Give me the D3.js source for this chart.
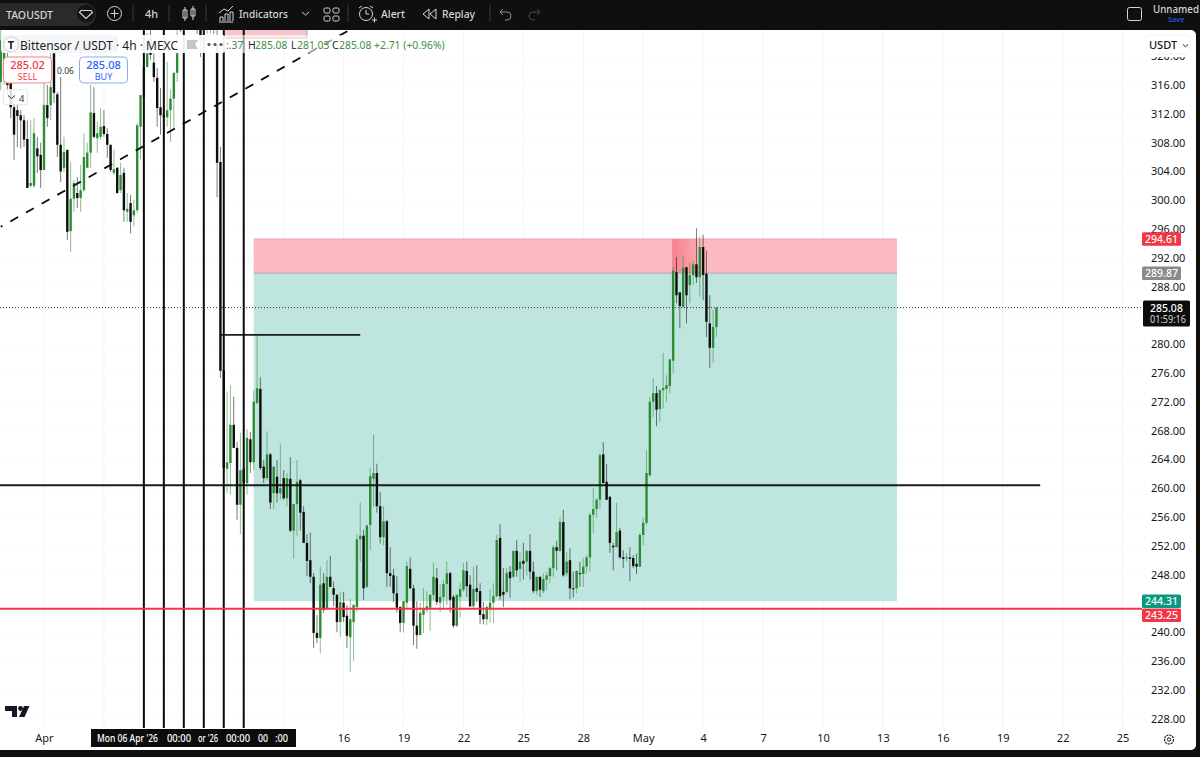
<!DOCTYPE html>
<html>
<head>
<meta charset="utf-8">
<title>TAOUSDT</title>
<script src="https://cdnjs.cloudflare.com/ajax/libs/d3/7.8.5/d3.min.js"></script>
<style>
  html, body { margin: 0; padding: 0; background: #0f0f0f; overflow: hidden; }
  svg { display: block; font-family: "Noto Sans", sans-serif; }
</style>
</head>
<body>
<script>
// 4h candles, first one is 30 Mar 2026 (index 13 = 1 Apr 00:00)
var opens = [316.4,317.4,319.5,317.4,312.9,312.5,311.8,311.1,308.5,302,302,307.2,306.3,304.2,313.2,313.2,320.4,314.7,307.7,304.5,
  307,295.7,300.2,301,300.3,301.4,304.5,306.6,312.1,308.6,308.8,310.3,309.2,307.7,303.8,304.5,301.4,303.8,298.4,299.6,
  297.9,298.6,310.2,314.3,318.5,322.5,319.1,317,312.9,311.8,311.5,312.5,314.1,317.7,326.4,324.3,327.1,325.3,326.4,325.7,
  324.3,323.6,325.7,327.1,327.8,321.6,305.3,276.4,262.7,263.5,268.8,265.6,257.7,262.7,260.7,266.8,263.6,271.8,273.8,263,
  261.4,264.7,259.3,261.6,259.3,261.4,258.6,261.3,254.1,257.8,261.1,256.7,252.4,250,247.7,239.9,239.2,246.8,243.2,247.7,
  246.1,245.2,241.4,244.1,242.3,239.3,241.4,243.5,252.9,253.4,246.3,254.9,261.3,262.1,257.5,253.2,255.4,248.2,247.9,245.4,
  243.5,241.3,244.1,248.8,246.1,240.9,239.6,242.4,243.1,243.4,245.2,247.5,244.1,244.9,246.7,248.2,244.9,240.9,244.9,245.9,
  248.5,246.6,243.6,246.1,245.7,242.5,241.8,243.2,244.1,245,253.1,245.6,245.6,248.4,247.7,251.3,248.8,249.9,249.8,251.3,
  248.4,245.7,247.7,245.7,247.3,247.8,248.9,251.8,251.3,255.3,248.2,250,246.1,246.1,248.2,248.1,249.1,250.4,256.3,257.1,
  258.4,264.7,260.9,258.8,252,251.8,254.1,250.4,250.3,250.4,250.3,249.5,249.1,253.5,255.2,261.8,272,273.2,271,273.6,
  273.8,274.2,277.7,290,287.2,285.2,290.7,288.2,289.6,291.1,289.3,293.5,289.8,282.9,279.5,282.37];
var highs = [323.6,322.2,321.6,319.5,314.6,313.2,312.5,311.8,311.1,311.1,311.4,308.8,308,316.3,316,320.4,320.4,315,317.1,308.8,
  307,305.3,302.8,303.2,304.9,309.3,308,316,315.7,310.9,312.8,312.5,310,307.7,307,304.6,305.2,304.5,301,300.7,
  300,310.7,314.6,323.6,323.2,323.6,320.4,318.4,315.6,313.9,319.2,315.4,317.7,323.6,327.1,327.8,327.8,327.8,327.5,327.1,
  326.4,327.1,327.8,328.5,328.5,323.6,307.4,276.4,273.4,274.3,272.7,266.4,267.7,266.7,268.2,267.8,273.6,281.3,275.4,263.9,
  267.9,264.9,263,263.9,266.1,262.5,262.1,264.3,257.8,263.9,261.3,257.5,253.6,253.8,248.2,242.4,249.1,248.2,250,250.6,
  247,245.3,245.6,245.6,243.8,244.6,243.8,253.6,258,254.2,255,262.8,267.4,263.4,259.5,257.5,255.6,251.8,248.8,247.8,
  243.6,244.3,249.8,250.4,246.6,244.3,244.1,246.1,245.7,245.3,249.6,248.9,246.6,247.3,249.8,248.4,245.2,245.2,246.8,249.6,
  249.8,247.9,249.1,249.3,246.8,244.2,243.8,245.9,246.8,253.5,255,248.9,248.9,249.2,251.3,252.8,251.1,252.4,251.4,253.6,
  249.8,247.7,247.7,248.2,248.4,249.1,252.1,252.7,256,257,251.1,251.7,248.4,248.6,249.8,250.3,250.7,256.6,260,258.6,
  264.9,266.4,263.4,258.9,252.4,258,254.5,251.4,251,251.8,250.7,250.9,253.8,255.9,265.3,272.7,275.3,274.2,273.8,278.8,
  275.7,277.9,290.7,292.1,287.2,292.3,290.7,291.3,291.6,296.1,295,295.2,293,286.8,284.8,285.08];
var lows = [315.3,316,314.6,311.4,305.6,307.4,307.2,307.4,301.7,301.8,301.7,303.8,301.7,304.2,310.2,311.1,313.5,306,302.5,303.9,
  294.5,292.8,298.4,298.9,298.4,301.1,304.5,304.5,308.6,306.6,308.4,308.8,305.9,303.9,303.5,300.9,301,297,297,295.4,
  296.3,298.2,305.7,314.3,318.5,319.5,316.4,310.2,309.1,309.1,310.2,308.1,310,316.4,323.4,323.6,324.3,323.9,324.2,323.1,
  319.9,322,323.1,323.2,323.1,300.4,275.3,262.1,259.3,259.1,265.6,255.6,253.6,260.2,259.1,262.1,262.5,271.8,262.5,260.7,
  261.1,257.1,257.1,258,258.4,258.4,257.5,253.9,250.2,253.4,254.1,252.4,247.8,246.8,237.8,238.5,237.1,242.7,243.2,246.3,
  243.6,240,239.3,241.4,237.8,234.5,236,242.8,249.8,244.5,246.1,251.4,257.4,256.6,252.3,252.1,246.3,246.3,244.2,242.7,
  240,240,243.4,246,238.2,237.7,239.6,239.9,242.7,240.2,244.5,243.8,242.8,243.4,243.8,242.7,240.6,240.7,242,245.6,
  244.9,243.5,243.4,244.2,241.1,241.1,241,241.3,241.3,244.9,244.5,243.5,245.4,244.8,247.5,247.7,247,247.3,247.9,247.3,
  245.4,245.2,244.9,245.4,245.9,246.8,247.7,248.6,251.1,247.7,247.7,244.6,244.8,245.4,246.3,246.3,248.2,248.4,253.8,255.9,
  257.1,260.7,258.4,251,248.6,251.8,250.2,248.9,249.8,247.1,248.9,248.1,249.1,252.1,254.9,261.6,269.9,268.6,269.2,271.1,
  272,273.2,276,285.7,282.2,285,282.9,285.7,288.2,288.5,286.6,286.1,281,276.7,277.4,281.03];
var closes = [322.2,320.9,316,312.9,309.1,311.7,311.1,308.4,301.7,302.4,309.3,306.1,304.2,313.2,311.4,315.7,314.9,307.7,304,306.7,
  295.6,300.2,302.4,300.3,301.4,306,306.6,312.2,308.8,309.3,310.2,309.2,307.7,304.2,304.3,301,303.5,298.6,298.8,297,
  298.6,310.4,314.6,318.5,320.4,320.2,317.1,312.8,311.8,311.5,312.5,314.1,317.7,320.4,324.3,326.7,325,327.1,325,323.9,
  322.2,325.7,327.1,327.8,325.7,305.2,276.3,262.8,263.6,268.8,265.6,257.7,262.5,260.7,267,263.6,272,273.9,262.8,261.4,
  264.7,258,263,259.3,260,258.6,261.4,254.1,257.8,260.9,256.6,252.4,249.9,247.7,239.9,239.2,246.6,243.1,247.7,246.3,
  245.2,241.4,244.2,242.1,239.5,241.8,243.8,252.9,253.4,246.1,254.8,261.7,262.1,257.5,253.2,255.4,248.2,247.8,245.4,243.4,
  241.3,244.3,249.2,246.1,240.9,239.6,242.7,243.2,243.6,245.2,247.7,244.2,244.9,246.7,248.2,244.5,240.9,245.2,246,248.6,
  246.4,243.6,246,245.6,242.4,241.8,243.5,244.1,245,252.8,245,245.2,248.2,247.5,251.3,248.6,249.8,249.5,251.3,248.4,
  245.7,247.7,245.9,247.4,247.9,248.9,251.8,251.3,255.3,247.9,249.8,246.1,246,248.5,248.1,249.1,250.4,256.3,257.1,258.4,
  264.6,260.7,258.4,252.4,251.8,253.9,250.4,250.2,250.4,250.2,249.2,249.1,253.5,255.2,262.1,272,273.2,270.9,273.6,273.9,
  274.3,277.9,290.2,286.8,285.3,290.6,286.8,289.6,291.1,289.3,293.5,289.6,283.1,279.5,282.4,285.08];

var priceTicks = [228,232,236,240,244,248,252,256,260,264,268,272,276,280,284,288,292,296,300,304,308,312,316,320];
var hiddenPriceTicks = [244, 284];  // covered by the price tags
var timeTickDays = [[3,1],[3,4],[3,7],[3,10],[3,13],[3,16],[3,19],[3,22],[3,25],[3,28],[4,1],[4,4],[4,7],[4,10],[4,13],[4,16],[4,19],[4,22],[4,25]];
// 4, 7, 10, 13 Apr sit under the crosshair date label
var timeTickLabels = ["Apr","","","","","16","19","22","25","28","May","4","7","10","13","16","19","22","25"];

// drawings on the chart
var verticalCandles = [43,49,55,61,67,73];
var trendCandles = [0,105];
var trendPrices = [296.3,323.7];
var levelPrice = 260.4;
var levelEnd = new Date(Date.UTC(2026,4,20,21));
var redLevel = 243.25;
var lastPrice = 285.08;
var shortLinePrice = 281.3;
var shortLineCandles = [66,108];
var stopTop = 294.61, entry = 289.87, target = 244.31;
var zoneStartCandle = 76;
var zoneEnd = new Date(Date.UTC(2026,4,13,17));
var overlapCandle = 202, overlapEndCandle = 209;
var upperZonePrices = [322.5,330];
var upperZoneCandles = [67,92];

var width = 1200, height = 757;
var chartRight = 1142, chartTop = 30, chartBottom = 728;

var candleTime = function(i){ return new Date(Date.UTC(2026,3,1) + (i-13)*4*3600*1000); };
var x = d3.scaleUtc().domain([new Date(Date.UTC(2026,3,1)), new Date(Date.UTC(2026,4,1))]).range([44,643.2]);
var y = d3.scaleLinear().domain([228,316]).range([718.6,85]);
var xi = function(i){ return x(candleTime(i)); };

var svg = d3.select("body").append("svg").attr("width",width).attr("height",height);
svg.append("rect").attr("width",width).attr("height",height).attr("fill","#0f0f0f");
svg.append("rect").attr("x",-6).attr("y",30).attr("width",1202).attr("height",720).attr("rx",5).attr("fill","#fff");

svg.append("clipPath").attr("id","pane").append("rect")
  .attr("x",0).attr("y",chartTop).attr("width",chartRight).attr("height",chartBottom-chartTop);
var defs = svg.append("defs");
var grad = defs.append("linearGradient").attr("id","overlap");
grad.append("stop").attr("offset","0").attr("stop-color","#f6808c").attr("stop-opacity",0.95);
grad.append("stop").attr("offset","1").attr("stop-color","#f6808c").attr("stop-opacity",0.35);

var pane = svg.append("g").attr("clip-path","url(#pane)");

// grid
var tickDates = timeTickDays.map(function(d){ return new Date(Date.UTC(2026,d[0],d[1])); });
pane.selectAll(".vgrid").data(tickDates).enter().append("line")
  .attr("x1",x).attr("x2",x).attr("y1",chartTop).attr("y2",chartBottom)
  .attr("stroke","#f2f3f5").attr("stroke-width",1);
pane.selectAll(".hgrid").data(priceTicks).enter().append("line")
  .attr("x1",0).attr("x2",chartRight).attr("y1",y).attr("y2",y)
  .attr("stroke","#fafafb").attr("stroke-width",1);

// position zones
var zoneX = xi(zoneStartCandle);
pane.append("rect").attr("x",zoneX).attr("width",x(zoneEnd)-zoneX)
  .attr("y",y(stopTop)).attr("height",y(entry)-y(stopTop)).attr("fill","#fbb9c0");
pane.append("rect").attr("x",zoneX).attr("width",x(zoneEnd)-zoneX)
  .attr("y",y(entry)).attr("height",y(target)-y(entry)).attr("fill","#bfe5df");
pane.append("line").attr("x1",zoneX).attr("x2",x(zoneEnd)).attr("y1",y(stopTop)).attr("y2",y(stopTop))
  .attr("stroke","#f5a3ac").attr("stroke-width",1);
pane.append("line").attr("x1",zoneX).attr("x2",x(zoneEnd)).attr("y1",y(entry)).attr("y2",y(entry))
  .attr("stroke","#b9a3a8").attr("stroke-width",1);
pane.append("rect").attr("x",xi(overlapCandle)-1).attr("width",xi(overlapEndCandle)-xi(overlapCandle)+1)
  .attr("y",y(stopTop)).attr("height",y(entry)-y(stopTop)).attr("fill","url(#overlap)");
pane.append("rect").attr("x",xi(upperZoneCandles[0])).attr("width",xi(upperZoneCandles[1])-xi(upperZoneCandles[0]))
  .attr("y",y(upperZonePrices[1])).attr("height",y(upperZonePrices[0])-y(upperZonePrices[1]))
  .attr("fill","#f7c6cb").attr("stroke","#9fa3a8");

// candles
var idx = d3.range(opens.length);
var upColor = "#2e8b35", downColor = "#0c0c0c";
var isUp = function(i){ return closes[i] >= opens[i]; };
pane.selectAll(".wick").data(idx).enter().append("line")
  .attr("x1",xi).attr("x2",xi)
  .attr("y1",function(i){ return y(highs[i]); })
  .attr("y2",function(i){ return y(lows[i]); })
  .attr("stroke",function(i){ return isUp(i) ? upColor : downColor; })
  .attr("stroke-opacity",0.55).attr("stroke-width",1);
pane.selectAll(".body").data(idx).enter().append("rect")
  .attr("x",function(i){ return xi(i)-1.2; })
  .attr("width",2.4)
  .attr("y",function(i){ return y(Math.max(opens[i],closes[i])); })
  .attr("height",function(i){ return Math.max(1,Math.abs(y(opens[i])-y(closes[i]))); })
  .attr("fill",function(i){ return isUp(i) ? upColor : downColor; });

// drawings
pane.selectAll(".vline").data(verticalCandles).enter().append("line")
  .attr("x1",xi).attr("x2",xi).attr("y1",chartTop).attr("y2",chartBottom)
  .attr("stroke","#0a0a0a").attr("stroke-width",2);
pane.append("line").attr("x1",xi(trendCandles[0])).attr("x2",xi(trendCandles[1]))
  .attr("y1",y(trendPrices[0])).attr("y2",y(trendPrices[1]))
  .attr("stroke","#0a0a0a").attr("stroke-width",1.8).attr("stroke-dasharray","9 9").attr("stroke-dashoffset",7);
pane.append("line").attr("x1",0).attr("x2",x(levelEnd)).attr("y1",y(levelPrice)).attr("y2",y(levelPrice))
  .attr("stroke","#0a0a0a").attr("stroke-opacity",0.92).attr("stroke-width",2);
pane.append("line").attr("x1",xi(shortLineCandles[0])).attr("x2",xi(shortLineCandles[1]))
  .attr("y1",y(shortLinePrice)).attr("y2",y(shortLinePrice))
  .attr("stroke","#0a0a0a").attr("stroke-opacity",0.92).attr("stroke-width",1.8);
pane.append("line").attr("x1",0).attr("x2",chartRight).attr("y1",y(redLevel)).attr("y2",y(redLevel))
  .attr("stroke","#f23645").attr("stroke-width",2);
pane.append("line").attr("x1",0).attr("x2",chartRight).attr("y1",y(lastPrice)).attr("y2",y(lastPrice))
  .attr("stroke","#333").attr("stroke-width",1).attr("stroke-dasharray","1 2");

// price axis
var yAxis = d3.axisRight(y).tickValues(priceTicks.filter(function(t){ return hiddenPriceTicks.indexOf(t) < 0; }))
  .tickFormat(d3.format(".2f")).tickSize(0).tickPadding(0);
var yg = svg.append("g").attr("transform","translate(1151,0)").call(yAxis);
yg.select(".domain").remove();
yg.selectAll("text").attr("font-size",11).attr("fill","#131722").attr("font-family","Noto Sans");

// time axis
var xAxis = d3.axisBottom(x).tickValues(tickDates)
  .tickFormat(function(d,i){ return timeTickLabels[i]; }).tickSize(0).tickPadding(0);
var xg = svg.append("g").attr("transform","translate(0,734)").call(xAxis);
xg.select(".domain").remove();
xg.selectAll("text").attr("font-size",11).attr("fill","#131722").attr("font-family","Noto Sans").attr("dy","0.7em");

// crosshair date label
svg.append("rect").attr("x",91).attr("y",729).attr("width",205).attr("height",18).attr("fill","#0c0c0c");
svg.selectAll(".cross").data([["Mon 06 Apr '26",97,61],["00:00",167,24],["or '26",198,20],["00:00",226,24],["00",258,10],[":00",275,13]]).enter().append("text")
  .attr("x",function(d){ return d[1]; }).attr("y",742).text(function(d){ return d[0]; })
  .attr("textLength",function(d){ return d[2]; }).attr("lengthAdjust","spacingAndGlyphs")
  .attr("font-size",10.5).attr("font-weight",500).attr("fill","#fff");

// price tags, the two lowest ones are pushed apart like on the chart
function tag(price,txt,fill,color,shift){
  var yy = y(price)+shift;
  svg.append("rect").attr("x",1142).attr("y",yy-6.7).attr("width",39).attr("height",13.5).attr("rx",1.5).attr("fill",fill);
  svg.append("text").attr("x",1161.5).attr("y",yy+4).attr("text-anchor","middle")
    .attr("font-size",10.5).attr("font-weight",500).attr("fill",color).text(txt);
}
tag(stopTop,"294.61","#f23645","#fff",0);
tag(entry,"289.87","#888a8e","#fff",0);
tag(target,"244.31","#089981","#fff",0);
tag(redLevel,"243.25","#f23645","#fff",6.5);
svg.append("rect").attr("x",1143).attr("y",y(lastPrice)-7).attr("width",47).attr("height",26).attr("rx",1.5).attr("fill","#0c0c0c");
svg.append("text").attr("x",1150).attr("y",y(lastPrice)+4).attr("font-size",10.5).attr("font-weight",500).attr("fill","#fff").text("285.08");
svg.append("text").attr("x",1150).attr("y",y(lastPrice)+15).attr("font-size",10.5).attr("textLength",36).attr("lengthAdjust","spacingAndGlyphs").attr("fill","#d6d6d6").text("01:59:16");

// USDT button, sits over the top of the 320 tick
svg.append("rect").attr("x",1146).attr("y",35).attr("width",44).attr("height",22).attr("fill","#fff");
svg.append("rect").attr("x",1146).attr("y",35).attr("width",44).attr("height",19).attr("rx",3).attr("fill","#fff").attr("stroke","#f0f3fa");
svg.append("text").attr("x",1149).attr("y",49).attr("font-size",11).attr("font-weight",500).attr("fill","#131722").text("USDT");
svg.append("path").attr("d","M1183 44.5l2.5 2.2 2.5-2.2").attr("fill","none").attr("stroke","#222").attr("stroke-width",1);

// settings gear
svg.append("circle").attr("cx",1169).attr("cy",739.5).attr("r",4.5).attr("fill","none").attr("stroke","#131722").attr("stroke-width",1.2).attr("stroke-dasharray","2.2 0.8");
svg.append("circle").attr("cx",1169).attr("cy",739.5).attr("r",1.7).attr("fill","none").attr("stroke","#131722");

// tradingview logo
svg.append("path").attr("d","M5 706h12v11h-5v-6h-7z").attr("fill","#131722");
svg.append("circle").attr("cx",20.5).attr("cy",708.5).attr("r",2.4).attr("fill","#131722");
svg.append("path").attr("d","M24 706h5.5l-5 11h-5.5z").attr("fill","#131722");

// legend
svg.append("rect").attr("x",225).attr("y",35).attr("width",220).attr("height",18).attr("fill","#fff").attr("fill-opacity",0.6);
svg.append("rect").attr("x",1).attr("y",35).attr("width",225).attr("height",18).attr("rx",4).attr("fill","#fff").attr("fill-opacity",0.93);
svg.append("rect").attr("x",1).attr("y",35).attr("width",117).attr("height",18).attr("rx",3).attr("fill","#f0f1f3").attr("fill-opacity",0.7);
svg.append("circle").attr("cx",11).attr("cy",44.5).attr("r",7.5).attr("fill","#fff").attr("stroke","#c9ccd3");
svg.append("text").attr("x",11).attr("y",48.5).attr("text-anchor","middle").attr("font-size",11).attr("font-weight",700).attr("fill","#222").text("T");
svg.append("text").attr("x",20).attr("y",50).attr("font-size",13).attr("fill","#1a1d26").attr("font-family","Noto Sans")
  .attr("textLength",158).attr("lengthAdjust","spacingAndGlyphs").text("Bittensor / USDT · 4h · MEXC");
svg.append("path").attr("d","M187 40h11l-3 4.5 3 4.5h-11z").attr("fill","#c4c6cb");
svg.selectAll(".dot").data([209,215,221]).enter().append("circle")
  .attr("cx",function(d){ return d; }).attr("cy",44.5).attr("r",1.6).attr("fill","#555");
var green = "#3d8f43";
var legendParts = [[226,":.37",green],[248,"H",""],[255,"285.08",green],[291,"L",""],[297,"281.03",green],[332,"C",""],[339,"285.08",green],[374,"+2.71 (+0.96%)",green]];
svg.selectAll(".legval").data(legendParts).enter().append("text")
  .attr("x",function(d){ return d[0]; }).attr("y",49).attr("font-size",10.4)
  .attr("fill",function(d){ return d[2] || "#1a1d26"; }).text(function(d){ return d[1]; });

// sell / buy
svg.append("rect").attr("x",3.5).attr("y",57).attr("width",48).attr("height",26).attr("rx",4).attr("fill","#fff").attr("stroke","#f7818c");
svg.append("text").attr("x",27.5).attr("y",69).attr("text-anchor","middle").attr("font-size",11).attr("font-weight",500).attr("fill","#f23645").text("285.02");
svg.append("text").attr("x",27.5).attr("y",80).attr("text-anchor","middle").attr("font-size",9).attr("fill","#f23645").text("SELL");
svg.append("rect").attr("x",79.5).attr("y",57).attr("width",48).attr("height",26).attr("rx",4).attr("fill","#fff").attr("stroke","#8aa9f5");
svg.append("text").attr("x",103.5).attr("y",69).attr("text-anchor","middle").attr("font-size",11).attr("font-weight",500).attr("fill","#2962ff").text("285.08");
svg.append("text").attr("x",103.5).attr("y",80).attr("text-anchor","middle").attr("font-size",9).attr("fill","#2962ff").text("BUY");
svg.append("text").attr("x",65.5).attr("y",73.5).attr("text-anchor","middle").attr("font-size",8.5).attr("fill","#333").text("0.06");
svg.append("rect").attr("x",3.5).attr("y",89.5).attr("width",24).attr("height",15).attr("rx",2).attr("fill","#fff").attr("fill-opacity",0.85).attr("stroke","#e6e7ea");
svg.append("path").attr("d","M8 95.5l3.5 3 3.5-3").attr("fill","none").attr("stroke","#333").attr("stroke-width",1);
svg.append("text").attr("x",19).attr("y",101.5).attr("font-size",9.5).attr("fill","#333").text("4");

// top toolbar
var bar = svg.append("g");
var ink = "#d6d6d6";
function barText(tx,ty,len,txt){
  bar.append("text").attr("x",tx).attr("y",ty).attr("font-size",11.5).attr("font-weight",500).attr("fill",ink)
    .attr("textLength",len).attr("lengthAdjust","spacingAndGlyphs").text(txt);
}
bar.append("rect").attr("x",-10).attr("y",3).attr("width",106).attr("height",23).attr("rx",11.5).attr("fill","#2a2a2a");
barText(6,18.5,47,"TAOUSDT");
bar.append("circle").attr("cx",86).attr("cy",13.5).attr("r",9).attr("fill","#141414");
bar.append("path").attr("d","M81 10.5h10l1.5 2-6.5 6-6.5-6z").attr("fill","none").attr("stroke",ink).attr("stroke-width",1.2);
bar.append("circle").attr("cx",114.5).attr("cy",13.5).attr("r",7).attr("fill","none").attr("stroke",ink);
bar.append("path").attr("d","M110.5 13.5h8M114.5 9.5v8").attr("stroke",ink);
bar.selectAll(".sep").data([133,169,206,348,490]).enter().append("line")
  .attr("x1",function(d){ return d; }).attr("x2",function(d){ return d; }).attr("y1",5).attr("y2",22).attr("stroke","#3a3a3a");
barText(145,18,13,"4h");
bar.append("path").attr("d","M185 7v14M185 10h-2v8h4v-8zM193 6v14M191 9h4v7h-4z").attr("fill","none").attr("stroke",ink);
bar.append("path").attr("d","M219 22h14M220 21v-4h3v4M225 21v-7h3v7M230 21v-9h3v9M219 13l5-4 4 2 5-5").attr("fill","none").attr("stroke",ink);
barText(239,18,49,"Indicators");
bar.append("path").attr("d","M302 12l3.5 3 3.5-3").attr("fill","none").attr("stroke",ink);
bar.selectAll(".sq").data([[324,8],[333,8],[324,16],[333,16]]).enter().append("rect")
  .attr("x",function(d){ return d[0]; }).attr("y",function(d){ return d[1]; }).attr("width",6).attr("height",5).attr("rx",1.5)
  .attr("fill","none").attr("stroke",ink);
bar.append("circle").attr("cx",366).attr("cy",14).attr("r",6.5).attr("fill","none").attr("stroke",ink);
bar.append("path").attr("d","M366 10v4h3M359 8l3-2M373 8l-3-2M372 20h5M374.5 17.5v5").attr("fill","none").attr("stroke",ink);
barText(381,18,24,"Alert");
bar.append("path").attr("d","M429 9l-6 5 6 5zM436 9l-6 5 6 5z").attr("fill","none").attr("stroke",ink);
barText(442,18,33,"Replay");
bar.append("path").attr("d","M500 12h7a4 4 0 0 1 0 8h-2M500 12l3-3M500 12l3 3").attr("fill","none").attr("stroke","#8a8a8a");
bar.append("path").attr("d","M540 12h-7a4 4 0 0 0 0 8h2M540 12l-3-3M540 12l-3 3").attr("fill","none").attr("stroke","#4a4a4a");
bar.append("rect").attr("x",1127.5).attr("y",7.5).attr("width",14).attr("height",13).attr("rx",2).attr("fill","none").attr("stroke",ink);
bar.append("text").attr("x",1153).attr("y",13).attr("font-size",10.5).attr("font-weight",500).attr("fill",ink)
  .attr("textLength",46).attr("lengthAdjust","spacingAndGlyphs").text("Unnamed");
bar.append("text").attr("x",1168).attr("y",22).attr("font-size",7.5).attr("fill","#2962ff").text("Save");
</script>
</body>
</html>
